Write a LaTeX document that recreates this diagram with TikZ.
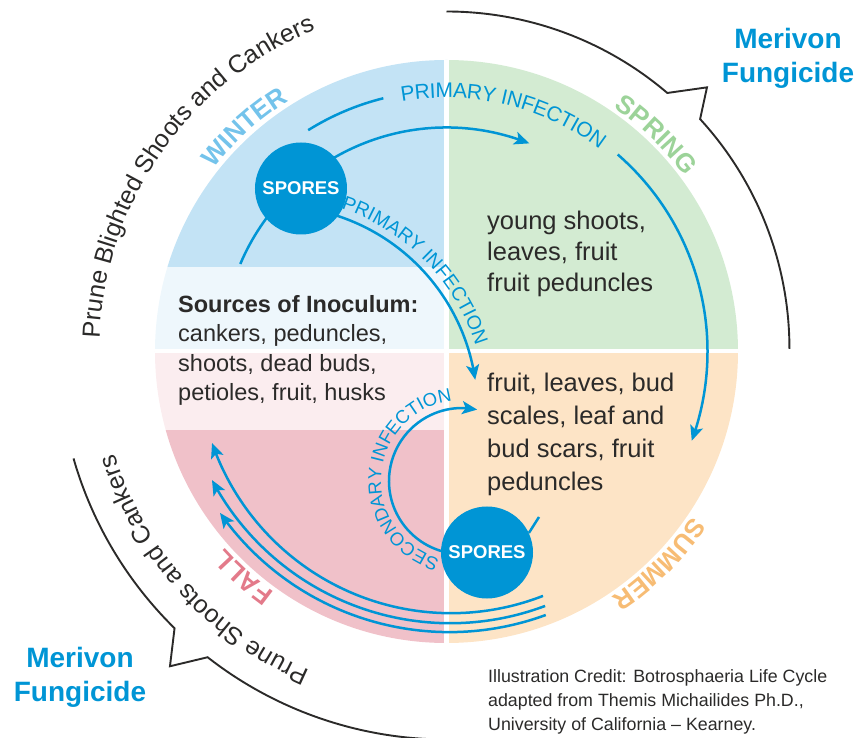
\documentclass[tikz,border=0pt]{standalone}
\usepackage{fontspec}
\setmainfont{Liberation Sans}
\newfontface\seasonfont{Liberation Sans Bold}
\usetikzlibrary{arrows.meta,bending,decorations.text,calc}

\definecolor{merblue}{HTML}{0095D5}
\definecolor{inktext}{HTML}{2B2A29}
\definecolor{winterbg}{HTML}{C3E3F5}
\definecolor{sourcebg}{HTML}{EEF7FC}
\definecolor{fallbg}{HTML}{F0C1C9}
\definecolor{fallltbg}{HTML}{FBEDEF}
\definecolor{springbg}{HTML}{D3EBD2}
\definecolor{summerbg}{HTML}{FDE4C6}
\definecolor{winterlbl}{HTML}{74C3EB}
\definecolor{springlbl}{HTML}{9CD399}
\definecolor{summerlbl}{HTML}{F7BC74}
\definecolor{falllbl}{HTML}{E37A8A}

\tikzset{
  flow/.style={draw=merblue, line width=2.5pt},
  flowarrow/.style={flow, -{Stealth[length=15pt,width=13pt,inset=3.5pt]}},
  prune/.style={draw=inktext, line width=1.9pt},
  spores/.style={circle, fill=merblue, minimum size=92pt, inner sep=0pt,
    text=white, font=\bfseries\fontsize{18.5}{18.5}\selectfont},
  body/.style={anchor=north west, align=left, inner sep=0pt, text=inktext},
  merivon/.style={anchor=north, align=center, inner sep=0pt, text=merblue,
    font=\bfseries\fontsize{28}{34}\selectfont},
}

\begin{document}
\begin{tikzpicture}[x=1pt,y=1pt]
  \useasboundingbox (-446.5,-386.5) rectangle (412.5,351.5);
  % seasons disc
  \begin{scope}
    \clip (0,0) circle[radius=291.5];
    \fill[winterbg] (-300,84.8) rectangle (0,300);
    \fill[sourcebg] (-300,0) rectangle (0,84.8);
    \fill[fallltbg] (-300,-78.5) rectangle (0,0);
    \fill[fallbg] (-300,-300) rectangle (0,-78.5);
    \fill[springbg] (0,0) rectangle (300,300);
    \fill[summerbg] (0,-300) rectangle (300,0);
    \draw[white, line width=4.5pt] (0,-300) -- (0,300) (-300,0.3) -- (300,0.3);
  \end{scope}

  % season labels
  \path[decorate, decoration={text along path, text align=center,
    text={|\color{winterlbl}\seasonfont\fontsize{26}{26}\selectfont|WINTER}}]
    (154:296) arc[start angle=154, end angle=110, radius=296];
  \path[decorate, decoration={text along path, text align=center,
    text={|\color{springlbl}\seasonfont\fontsize{26}{26}\selectfont|SPRING}}]
    (68:296) arc[start angle=68, end angle=24, radius=296];
  \path[decorate, decoration={text along path, text align=center,
    text={|\color{summerlbl}\seasonfont\fontsize{26}{26}\selectfont|SUMMER}}]
    (-23:296) arc[start angle=-23, end angle=-67, radius=296];
  \path[decorate, decoration={text along path, text align=center,
    text={|\color{falllbl}\seasonfont\fontsize{26}{26}\selectfont|FALL}}]
    (-110:296) arc[start angle=-110, end angle=-154, radius=296];

  % pruning arcs
  \path[decorate, decoration={text along path, text align=center,
    text={|\color{inktext}\fontsize{25}{25}\selectfont|Prune Blighted Shoots and Cankers}}]
    (185:347) arc[start angle=185, end angle=105, radius=347];
  \path[decorate, decoration={text along path, text align=center,
    text={|\color{inktext}\fontsize{25}{25}\selectfont|Prune Shoots and Cankers}}]
    (-95:347) arc[start angle=-95, end angle=-181, radius=347];
  \draw[prune] (90:340) arc[start angle=90, end angle=49.5, radius=340]
    -- (45.4:371) -- (42.5:344) arc[start angle=42.5, end angle=0, radius=340];
  \draw[prune] (196:388) arc[start angle=196, end angle=225.5, radius=388]
    -- (228.7:419) -- (232:388) arc[start angle=232, end angle=271, radius=388];

  % primary infection, outer ring
  \coordinate (pA) at (122:261);
  \coordinate (pB) at (49:261);
  \draw[flow] (pA) arc[start angle=122, end angle=104, radius=261];
  \path[decorate, decoration={text along path, text align=center, raise=-7.4pt,
    text={|\color{merblue}\fontsize{21}{21}\selectfont|PRIMARY INFECTION}}]
    (101:261) arc[start angle=101, end angle=52, radius=261];
  \draw[flowarrow] (pB) arc[start angle=49, end angle=-20, radius=261];

  % primary infection, from winter spores
  \coordinate (wA) at (157:224);
  \draw[flowarrow] (wA) arc[start angle=157, end angle=68.3, radius=224];
  \coordinate (dC) at (-172.2,-57.3);
  \draw[flowarrow] ($(dC)+(76:203)$) arc[start angle=76, end angle=8.2, radius=203];
  \path[decorate, decoration={text along path, text align=center,
    text={|\color{merblue}\fontsize{19.5}{19.5}\selectfont|PRIMARY INFECTION}}]
    ($(dC)+(81:211)$) arc[start angle=81, end angle=8, radius=211];

  % secondary infection
  \coordinate (sC) at (15.5,-129.5);
  \draw[flowarrow] ($(sC)+(262:73)$) arc[start angle=262, end angle=78, radius=73];
  \path[decorate, decoration={text along path, text align=center,
    text={|\color{merblue}\fontsize{18.5}{18.5}\selectfont|SECONDARY INFECTION}}]
    ($(sC)+(265:81)$) arc[start angle=265, end angle=86, radius=81];

  % back to the sources
  \foreach \cx/\cy/\r/\a/\b in {4.6/-8.7/253/-68.7/-160.9,
      3.7/-1.9/269.8/-69.4/-152, 2.9/-0.2/280.4/-69.9/-144.9}{
    \draw[flowarrow] ($(\cx,\cy)+(\a:\r)$) arc[start angle=\a, end angle=\b, radius=\r];
  }

  \node[spores] (spW) at (-145.5,163) {SPORES};
  \node[spores] (spS) at (40.5,-201) {SPORES};
  \coordinate (stub) at (92.5,-165.5);
  \draw[flow] (spS.25) -- (stub);

  \node[body, font=\fontsize{25.5}{31}\selectfont] (spring) at (40.5,140.8)
    {young shoots,\\leaves, fruit\\fruit peduncles};
  \node[body, font=\fontsize{25.5}{33}\selectfont] (summer) at (40.5,-21.2)
    {fruit, leaves, bud\\scales, leaf and\\bud scars, fruit\\peduncles};
  \node[body, font=\fontsize{23.5}{29.5}\selectfont] (sources) at (-268.5,56.3)
    {\textbf{Sources of Inoculum:}\\cankers, peduncles,\\shoots, dead buds,\\petioles, fruit, husks};
  \node[body, font=\fontsize{17.8}{24}\selectfont] (credit) at (41.5,-317.8)
    {Illustration Credit: Botrosphaeria Life Cycle\\adapted from Themis Michailides Ph.D.,\\University of California -- Kearney.};
  \node[merivon] (merTR) at (341.5,323.5) {Merivon\\Fungicide};
  \node[merivon] (merBL) at (-366.5,-295.5) {Merivon\\Fungicide};
\end{tikzpicture}
\end{document}
